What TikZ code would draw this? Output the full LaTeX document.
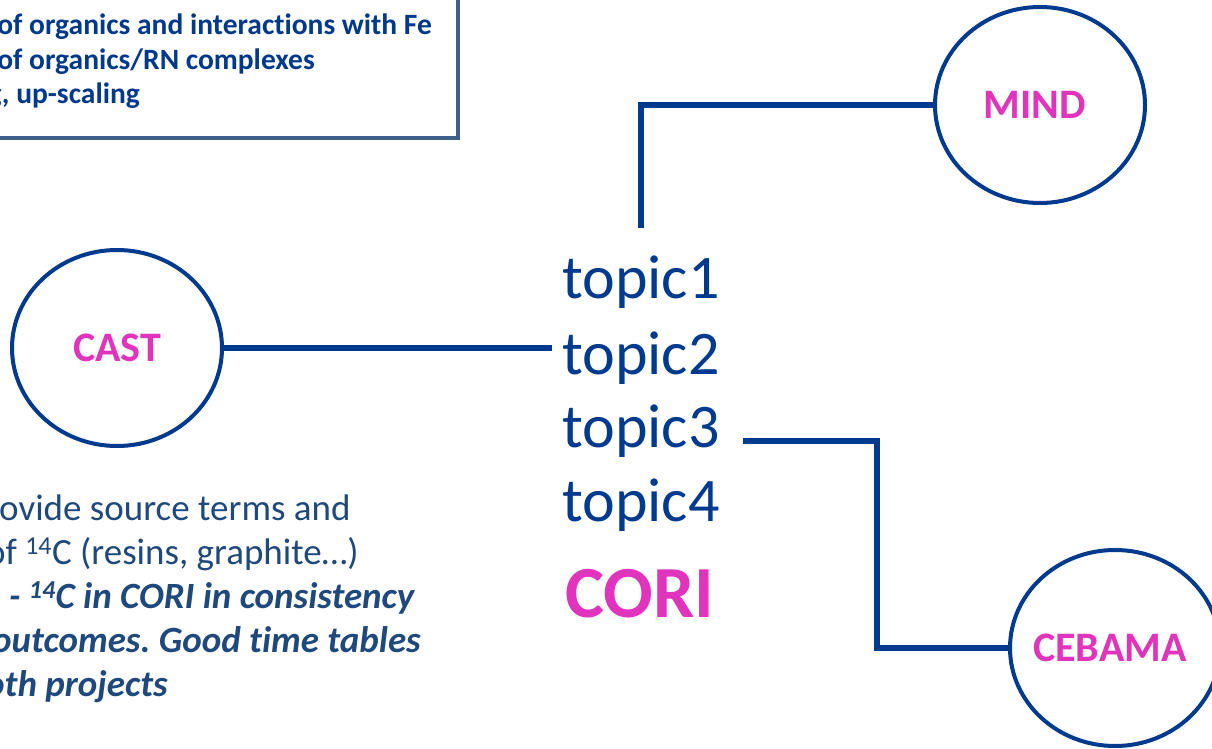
\documentclass[tikz,border=0pt]{standalone}
\usepackage{fontspec}
\setmainfont{Carlito}[Ligatures={NoCommon}]
\usepackage{tikz}
\usetikzlibrary{shapes.geometric}
\frenchspacing

\definecolor{coriblue}{RGB}{0,58,143}
\definecolor{boxblue}{RGB}{0,56,140}
\definecolor{boxline}{RGB}{62,95,138}
\definecolor{noteblue}{RGB}{31,73,125}
\definecolor{coripink}{RGB}{224,52,189}

\begin{document}
\begin{tikzpicture}[x=1pt, y=-1pt,
    topic/.style={text=coriblue, font=\fontsize{62}{62}\selectfont, inner xsep=10pt, inner ysep=0pt, anchor=base west},
    partner/.style={ellipse, draw=coriblue, line width=4pt, minimum width=210pt, minimum height=196pt, inner sep=0pt, text=coripink, font=\bfseries\fontsize{42}{42}\selectfont},
    link/.style={draw=coriblue, line width=6pt},
    boxtext/.style={text=boxblue, font=\bfseries\fontsize{29.5}{29.5}\selectfont, inner sep=0pt, anchor=base east},
    notetext/.style={text=noteblue, font=\fontsize{37}{37}\selectfont, inner sep=0pt, anchor=base west},
    notebold/.style={notetext, font=\bfseries\itshape\fontsize{37}{37}\selectfont}]
    % 1. Frame of the slide crop
    \useasboundingbox (0,0) rectangle (1212,749);
    \clip (0,0) rectangle (1212,749);

    % 2. Box in the upper left corner, cut by the frame
    \draw[boxline, line width=4pt] (-20,-20) rectangle (458,138);
    \node[boxtext] (boxa) at (432,35) {of organics and interactions with Fe};
    \node[boxtext] (boxb) at (315,70) {of organics/RN complexes};
    \node[boxtext] (boxc) at (140,104) {g, up-scaling};

    % 3. The topics of CORI
    \node[topic] (topic1) at (552,298) {topic1};
    \node[topic] (topic2) at (552,374) {topic2};
    \node[topic] (topic3) at (552,447) {topic3};
    \node[topic] (topic4) at (552,521) {topic4};
    \node[text=coripink, font=\bfseries\fontsize{73.5}{73.5}\selectfont, inner sep=0pt, anchor=base] (cori) at (640,617) {CORI};

    % 4. Partner projects
    \node[partner] (mind) at (1040,105) {\hspace*{-10pt}MIND};
    \node[partner] (cast) at (117,348) {CAST};
    \node[partner] (cebama) at (1115,648) {\hspace*{-10pt}CEBAMA};

    % 5. Links between topics and partners
    \coordinate (t1top) at (641,228);
    \coordinate (t3out) at (743,441);
    \draw[link] (t1top) |- (mind.west);
    \draw[link] (cast.east) -- (cast.east -| topic2.west);
    \draw[link] (t3out) -- (877,441) |- (cebama.west);

    % 6. Note in the lower left corner, cut by the frame
    \node[notetext] (notea) at (-1,520) {ovide source terms and};
    \node[notetext] (noteb) at (-14,564) {of \textsuperscript{14}C (resins, graphite…)};
    \node[notebold] (notec) at (9,608) {- \textsuperscript{14}C in CORI in consistency};
    \node[notebold] (noted) at (-8,652) {outcomes. Good time tables};
    \node[notebold] (notee) at (-15,696) {oth projects};
\end{tikzpicture}
\end{document}
